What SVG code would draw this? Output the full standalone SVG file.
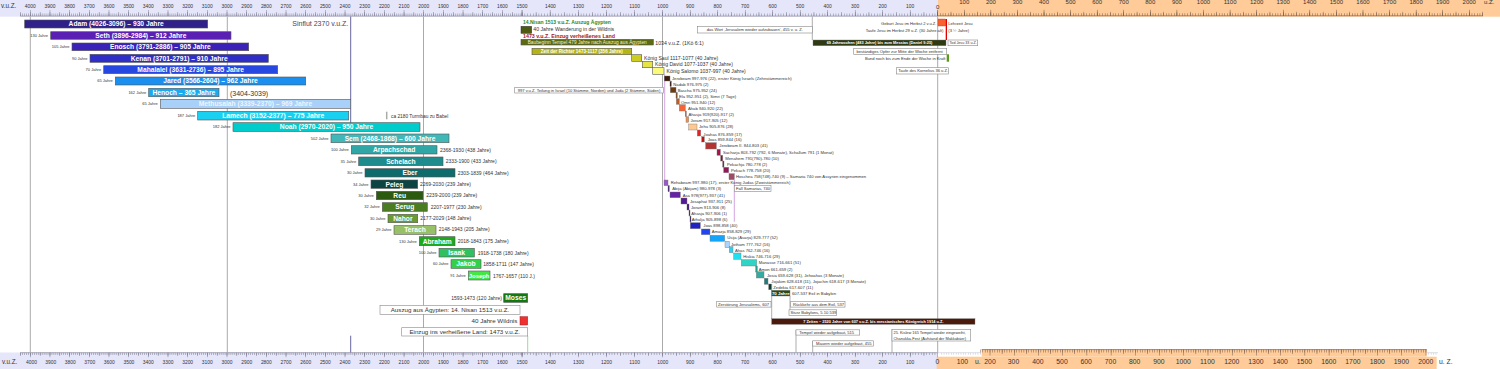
<svg xmlns="http://www.w3.org/2000/svg" width="1500" height="369" viewBox="0 0 1500 369">
<style>
svg{fill:#333}
text{font-family:"Liberation Sans",Arial,sans-serif}
.bar{stroke:#555;stroke-width:0.6}
.bt{font-weight:bold;font-size:6.7px;fill:#fff;text-anchor:middle}
.age{font-size:4px;text-anchor:end}
.life{font-size:5px}
.k{font-size:4.2px}
.kb{stroke:#777;stroke-width:0.4}
.box{fill:#fff;stroke:#888;stroke-width:0.6}
.bx{font-size:4.1px}
.grid{stroke:#aaa;stroke-width:1}
.ax{font-size:6px;text-anchor:middle}
.axa{font-size:6px;text-anchor:middle}
.axb{font-size:6.8px;text-anchor:middle}
.tk{fill:none}
</style>

<!-- axis backgrounds -->
<g id="axis-top">
<rect x="0" y="0" width="937.7" height="16.7" fill="#e6e6fa"/>
<rect x="937.7" y="0" width="562.3" height="16.7" fill="#ffcc99"/>
<g stroke="#77778a" class="tk">
<line x1="20.2" y1="16.1" x2="938" y2="16.1" stroke-width="0.6"/>
<line x1="20.25" y1="14.8" x2="522.2" y2="14.8" stroke-width="2.4" stroke-dasharray="0.45 1.517"/>
<line x1="20.25" y1="14" x2="522.2" y2="14" stroke-width="4" stroke-dasharray="0.45 9.385"/>
<line x1="30.08" y1="13" x2="522.4" y2="13" stroke-width="6" stroke-dasharray="0.45 19.22"/>
<line x1="521.83" y1="14.8" x2="662.5" y2="14.8" stroke-width="2.4" stroke-dasharray="0.45 2.36"/>
<line x1="521.83" y1="14" x2="662.5" y2="14" stroke-width="4" stroke-dasharray="0.45 13.6"/>
<line x1="521.83" y1="13" x2="662.5" y2="13" stroke-width="6" stroke-dasharray="0.45 27.65"/>
<line x1="662.48" y1="14.8" x2="937.5" y2="14.8" stroke-width="2.4" stroke-dasharray="0.45 2.3"/>
<line x1="662.48" y1="14" x2="937.5" y2="14" stroke-width="4" stroke-dasharray="0.45 13.3"/>
<line x1="662.48" y1="13" x2="938" y2="13" stroke-width="6" stroke-dasharray="0.45 27.05"/>
</g>
<g stroke="#6a5040" class="tk">
<line x1="937.5" y1="15.8" x2="1483" y2="15.8" stroke-width="0.6"/>
<line x1="937.48" y1="14.5" x2="1483" y2="14.5" stroke-width="2.4" stroke-dasharray="0.45 2.208"/>
<line x1="937.48" y1="13.7" x2="1483" y2="13.7" stroke-width="4" stroke-dasharray="0.45 12.84"/>
<line x1="937.48" y1="12.7" x2="1483" y2="12.7" stroke-width="6" stroke-dasharray="0.45 26.13"/>
</g>
<text x="1" y="8.3" font-size="6.3">v.u.Z.</text>
<g transform="scale(0.82 1)">
<text class="ax" x="36.95" y="8.3">4000</text><text class="ax" x="60.94" y="8.3">3900</text><text class="ax" x="84.93" y="8.3">3800</text><text class="ax" x="108.91" y="8.3">3700</text><text class="ax" x="132.9" y="8.3">3600</text><text class="ax" x="156.89" y="8.3">3500</text><text class="ax" x="180.88" y="8.3">3400</text><text class="ax" x="204.87" y="8.3">3300</text><text class="ax" x="228.85" y="8.3">3200</text><text class="ax" x="252.84" y="8.3">3100</text><text class="ax" x="276.83" y="8.3">3000</text><text class="ax" x="300.82" y="8.3">2900</text><text class="ax" x="324.8" y="8.3">2800</text><text class="ax" x="348.79" y="8.3">2700</text><text class="ax" x="372.78" y="8.3">2600</text><text class="ax" x="396.77" y="8.3">2500</text><text class="ax" x="420.76" y="8.3">2400</text><text class="ax" x="444.74" y="8.3">2300</text><text class="ax" x="468.73" y="8.3">2200</text><text class="ax" x="492.72" y="8.3">2100</text><text class="ax" x="516.71" y="8.3">2000</text><text class="ax" x="540.7" y="8.3">1900</text><text class="ax" x="564.68" y="8.3">1800</text><text class="ax" x="588.67" y="8.3">1700</text><text class="ax" x="612.66" y="8.3">1600</text><text class="ax" x="636.65" y="8.3">1500</text><text class="ax" x="671.22" y="8.3">1400</text><text class="ax" x="705.49" y="8.3">1300</text><text class="ax" x="739.63" y="8.3">1200</text><text class="ax" x="773.9" y="8.3">1100</text><text class="ax" x="808.17" y="8.3">1000</text><text class="ax" x="841.71" y="8.3">900</text><text class="ax" x="875.24" y="8.3">800</text><text class="ax" x="908.78" y="8.3">700</text><text class="ax" x="942.32" y="8.3">600</text><text class="ax" x="975.85" y="8.3">500</text><text class="ax" x="1009.39" y="8.3">400</text><text class="ax" x="1042.93" y="8.3">300</text><text class="ax" x="1076.46" y="8.3">200</text><text class="ax" x="1110" y="8.3">100</text>
</g>
<text class="axa" x="937.7" y="9" font-size="6.5">0</text>
<text class="axa" x="964.3" y="4">100</text><text class="axa" x="990.9" y="4">200</text><text class="axa" x="1017.4" y="4">300</text><text class="axa" x="1044" y="4">400</text><text class="axa" x="1070.6" y="4">500</text><text class="axa" x="1097.2" y="4">600</text><text class="axa" x="1123.8" y="4">700</text><text class="axa" x="1150.3" y="4">800</text><text class="axa" x="1176.9" y="4">900</text><text class="axa" x="1203.5" y="4">1000</text><text class="axa" x="1230.1" y="4">1100</text><text class="axa" x="1256.7" y="4">1200</text><text class="axa" x="1283.2" y="4">1300</text><text class="axa" x="1309.8" y="4">1400</text><text class="axa" x="1336.4" y="4">1500</text><text class="axa" x="1363" y="4">1600</text><text class="axa" x="1389.6" y="4">1700</text><text class="axa" x="1416.1" y="4">1800</text><text class="axa" x="1442.7" y="4">1900</text><text class="axa" x="1469.3" y="4">2000</text>
<text x="1484" y="4" font-size="6">u.Z.</text>
</g>

<g id="axis-bottom">
<rect x="0" y="352.5" width="937.7" height="16.5" fill="#e6e6fa"/>
<rect x="936.7" y="356.7" width="500" height="12.3" fill="#ffcc99"/>
<rect x="981.7" y="349.3" width="445" height="7.4" fill="#ffcc99"/>
<g stroke="#77778a" class="tk">
<line x1="20.2" y1="352.7" x2="938" y2="352.7" stroke-width="0.6"/>
<line x1="20.25" y1="353.8" x2="522.2" y2="353.8" stroke-width="2.2" stroke-dasharray="0.45 1.517"/>
<line x1="20.25" y1="354.3" x2="522.2" y2="354.3" stroke-width="3.2" stroke-dasharray="0.45 9.385"/>
<line x1="30.08" y1="355" x2="522.4" y2="355" stroke-width="4.6" stroke-dasharray="0.45 19.22"/>
<line x1="521.83" y1="353.8" x2="662.5" y2="353.8" stroke-width="2.2" stroke-dasharray="0.45 2.36"/>
<line x1="521.83" y1="354.3" x2="662.5" y2="354.3" stroke-width="3.2" stroke-dasharray="0.45 13.6"/>
<line x1="521.83" y1="355" x2="662.5" y2="355" stroke-width="4.6" stroke-dasharray="0.45 27.65"/>
<line x1="662.48" y1="353.8" x2="937.5" y2="353.8" stroke-width="2.2" stroke-dasharray="0.45 2.3"/>
<line x1="662.48" y1="354.3" x2="937.5" y2="354.3" stroke-width="3.2" stroke-dasharray="0.45 13.3"/>
<line x1="662.48" y1="355" x2="938" y2="355" stroke-width="4.6" stroke-dasharray="0.45 27.05"/>
</g>
<g stroke="#bbbbcc" class="tk">
<line x1="938" y1="352.7" x2="981" y2="352.7" stroke-width="0.5"/>
<line x1="941.38" y1="353.7" x2="981" y2="353.7" stroke-width="2" stroke-dasharray="0.45 1.972"/>
<line x1="1427" y1="352.7" x2="1438" y2="352.7" stroke-width="0.5"/>
<line x1="1428.5" y1="353.7" x2="1438" y2="353.7" stroke-width="2" stroke-dasharray="0.45 1.972"/>
</g>
<g stroke="#6a5040" class="tk">
<line x1="981.7" y1="349.6" x2="1426.7" y2="349.6" stroke-width="0.6"/>
<line x1="980.09" y1="351" x2="1426.9" y2="351" stroke-width="3" stroke-dasharray="0.45 1.972"/>
<line x1="1001.89" y1="351.8" x2="1426.9" y2="351.8" stroke-width="4.5" stroke-dasharray="0.45 23.77"/>
<line x1="989.78" y1="352.6" x2="1426.9" y2="352.6" stroke-width="6" stroke-dasharray="0.45 23.77"/>
</g>
<text x="2" y="364.3" font-size="6.3">v.u.Z.</text>
<g transform="scale(0.82 1)">
<text class="ax" x="38.5" y="364.3">4000</text><text class="ax" x="62" y="364.3">3900</text><text class="ax" x="85.7" y="364.3">3800</text><text class="ax" x="109.5" y="364.3">3700</text><text class="ax" x="133.3" y="364.3">3600</text><text class="ax" x="157.2" y="364.3">3500</text><text class="ax" x="180.88" y="364.3">3400</text><text class="ax" x="204.87" y="364.3">3300</text><text class="ax" x="228.85" y="364.3">3200</text><text class="ax" x="252.84" y="364.3">3100</text><text class="ax" x="276.83" y="364.3">3000</text><text class="ax" x="300.82" y="364.3">2900</text><text class="ax" x="324.8" y="364.3">2800</text><text class="ax" x="348.79" y="364.3">2700</text><text class="ax" x="372.78" y="364.3">2600</text><text class="ax" x="396.77" y="364.3">2500</text><text class="ax" x="420.76" y="364.3">2400</text><text class="ax" x="444.74" y="364.3">2300</text><text class="ax" x="468.73" y="364.3">2200</text><text class="ax" x="492.72" y="364.3">2100</text><text class="ax" x="516.71" y="364.3">2000</text><text class="ax" x="540.7" y="364.3">1900</text><text class="ax" x="564.68" y="364.3">1800</text><text class="ax" x="588.67" y="364.3">1700</text><text class="ax" x="612.66" y="364.3">1600</text><text class="ax" x="636.65" y="364.3">1500</text><text class="ax" x="671.22" y="364.3">1400</text><text class="ax" x="705.49" y="364.3">1300</text><text class="ax" x="739.63" y="364.3">1200</text><text class="ax" x="773.9" y="364.3">1100</text><text class="ax" x="808.17" y="364.3">1000</text><text class="ax" x="841.71" y="364.3">900</text><text class="ax" x="875.24" y="364.3">800</text><text class="ax" x="908.78" y="364.3">700</text><text class="ax" x="942.32" y="364.3">600</text><text class="ax" x="975.85" y="364.3">500</text><text class="ax" x="1009.39" y="364.3">400</text><text class="ax" x="1042.93" y="364.3">300</text><text class="ax" x="1076.46" y="364.3">200</text><text class="ax" x="1110" y="364.3">100</text>
</g>
<text class="axb" x="937.3" y="364.3">0</text><text class="axb" x="962.3" y="364.3">100</text>
<text x="975" y="364.3" font-size="6.8">u.</text>
<text class="axb" x="990" y="364.3">200</text><text class="axb" x="1013.5" y="364.3">300</text><text class="axb" x="1037.8" y="364.3">400</text><text class="axb" x="1062" y="364.3">500</text><text class="axb" x="1086.2" y="364.3">600</text><text class="axb" x="1110.5" y="364.3">700</text><text class="axb" x="1134.7" y="364.3">800</text><text class="axb" x="1158.9" y="364.3">900</text><text class="axb" x="1183.2" y="364.3">1000</text><text class="axb" x="1207.4" y="364.3">1100</text><text class="axb" x="1231.7" y="364.3">1200</text><text class="axb" x="1255.9" y="364.3">1300</text><text class="axb" x="1280.2" y="364.3">1400</text><text class="axb" x="1304.4" y="364.3">1500</text><text class="axb" x="1328.7" y="364.3">1600</text><text class="axb" x="1352.9" y="364.3">1700</text><text class="axb" x="1377.2" y="364.3">1800</text><text class="axb" x="1401.4" y="364.3">1900</text><text class="axb" x="1425.8" y="364.3">2000</text>
<text x="1439" y="364.3" font-size="6.8">u. Z.</text>
</g>

<!-- connectors -->
<g id="connectors" fill="none">
<line class="grid" x1="30.3" y1="16.5" x2="30.3" y2="352.5"/>
<line class="grid" x1="227.3" y1="16.5" x2="227.3" y2="352.5"/>
<line class="grid" x1="423.5" y1="16.5" x2="423.5" y2="352.5"/>
<line class="grid" x1="662.5" y1="16.5" x2="662.5" y2="352.5"/>
<line class="grid" x1="937.7" y1="16.5" x2="937.7" y2="352.5"/>
<line x1="350.7" y1="16.5" x2="350.7" y2="123" stroke="#66669a" stroke-width="1"/>
<line x1="350.7" y1="335.7" x2="350.7" y2="352.5" stroke="#66669a" stroke-width="1"/>
<line x1="527.7" y1="336" x2="527.7" y2="352.5" stroke="#8c8" stroke-width="0.8"/>
<line x1="664.7" y1="74.3" x2="664.7" y2="180" stroke="#d4a6e0" stroke-width="1"/>
<line x1="734.3" y1="179.7" x2="734.3" y2="221.7" stroke="#d4a6e0" stroke-width="1"/>
<line x1="812.3" y1="16.5" x2="812.3" y2="40" stroke="#999" stroke-width="0.8"/>
<line x1="771.7" y1="284" x2="771.7" y2="318.7" stroke="#999" stroke-width="0.8"/>
<line x1="790" y1="296" x2="790" y2="310" stroke="#999" stroke-width="0.8"/>
<line x1="796" y1="330" x2="796" y2="352.5" stroke="#999" stroke-width="0.8"/>
<line x1="812.7" y1="341" x2="812.7" y2="352.5" stroke="#999" stroke-width="0.8"/>
<line x1="892" y1="329.3" x2="892" y2="352.5" stroke="#999" stroke-width="0.8"/>
</g>

<!-- Patriarchs -->
<g id="adam"><rect class="bar" x="24.7" y="20" width="183" height="8" fill="#30208a"/><text class="bt" x="116.2" y="26.4">Adam (4026-3096) – 930 Jahre</text></g>
<g id="sinflut"><text x="292.3" y="26.3" font-size="7" fill="#444466">Sinflut 2370 v.u.Z.</text></g>
<g id="seth"><text class="age" x="48" y="36.9">130 Jahre</text><rect class="bar" x="50.7" y="31.7" width="180.3" height="7.6" fill="#5a20b4"/><text class="bt" x="140.85" y="37.9">Seth (3896-2984) – 912 Jahre</text></g>
<g id="enosch"><text class="age" x="69.5" y="48.2">105 Jahre</text><rect class="bar" x="72" y="43" width="176.7" height="7.7" fill="#3a22b8"/><text class="bt" x="160.35" y="49.25">Enosch (3791-2886) – 905 Jahre</text></g>
<g id="kenan"><text class="age" x="87.5" y="59.7">90 Jahre</text><rect class="bar" x="90" y="54.3" width="178.3" height="8" fill="#2f2fc8"/><text class="bt" x="179.15" y="60.7">Kenan (3701-2791) – 910 Jahre</text></g>
<g id="mahalalel"><text class="age" x="101.2" y="71.1">70 Jahre</text><rect class="bar" x="103.7" y="65.7" width="174" height="8" fill="#2648e0"/><text class="bt" x="190.7" y="72.1">Mahalalel (3631-2736) – 895 Jahre</text></g>
<g id="jared"><text class="age" x="112.8" y="82.4">65 Jahre</text><rect class="bar" x="115.3" y="77" width="190.4" height="8" fill="#1a8ff0"/><text class="bt" x="210.5" y="83.4">Jared (3566-2604) – 962 Jahre</text></g>
<g id="henoch"><text class="age" x="146.2" y="93.9">162 Jahre</text><rect class="bar" x="148.7" y="88.3" width="70.3" height="8.4" fill="#1aaaf0"/><text class="bt" x="183.85" y="94.9">Henoch – 365 Jahre</text><text x="230" y="95.5" font-size="7">(3404-3039)</text></g>
<g id="methusalah"><text class="age" x="157.8" y="105.2">65 Jahre</text><rect class="bar" x="160.3" y="99.3" width="190.4" height="9" fill="#a8d0f8" stroke="#6a8ac0"/><text class="bt" x="255.5" y="106.2" style="fill:#eef6ff">Methusalah (3339-2370) – 969 Jahre</text></g>
<g id="lamech"><text class="age" x="195.2" y="117">187 Jahre</text><rect class="bar" x="197.7" y="111.3" width="151" height="8.7" fill="#1ad0f0"/><text class="bt" x="273.2" y="118.05">Lamech (3152-2377) – 775 Jahre</text></g>
<g id="turmbau"><line x1="386.7" y1="111.7" x2="386.7" y2="119.3" stroke="#aaa" stroke-width="1.5"/><text x="391" y="118" font-size="4.8">ca 2180 Turmbau zu Babel</text></g>
<g id="noah"><text class="age" x="230.5" y="128.4">182 Jahre</text><rect class="bar" x="233" y="122.7" width="187" height="8.8" fill="#00cccc"/><text class="bt" x="326.5" y="129.4">Noah (2970-2020) – 950 Jahre</text></g>
<g id="sem"><text class="age" x="328.5" y="139.7">502 Jahre</text><rect class="bar" x="331" y="134" width="118" height="8.7" fill="#40b8b8"/><text class="bt" x="390" y="140.75">Sem (2468-1868) – 600 Jahre</text></g>
<g id="arpachschad"><text class="age" x="348.8" y="151.2">100 Jahre</text><rect class="bar" x="351.3" y="145.7" width="85.7" height="8.3" fill="#30a6a6"/><text class="bt" x="394.15" y="152.25">Arpachschad</text><text class="life" x="440" y="152">2368-1930 (438 Jahre)</text></g>
<g id="schelach"><text class="age" x="356.2" y="162.7">35 Jahre</text><rect class="bar" x="358.7" y="157" width="84.3" height="8.7" fill="#1e8c8c"/><text class="bt" x="400.85" y="163.75">Schelach</text><text class="life" x="445.7" y="163.4">2333-1900 (433 Jahre)</text></g>
<g id="eber"><text class="age" x="362.5" y="174.2">30 Jahre</text><rect class="bar" x="365" y="168.7" width="90" height="8.3" fill="#0e6c6c"/><text class="bt" x="410" y="175.25">Eber</text><text class="life" x="457.7" y="174.8">2303-1839 (464 Jahre)</text></g>
<g id="peleg"><text class="age" x="368.5" y="185.5">34 Jahre</text><rect class="bar" x="371" y="180" width="46.7" height="8.3" fill="#0c4444"/><text class="bt" x="394.35" y="186.55">Peleg</text><text class="life" x="420" y="186">2269-2030 (239 Jahre)</text></g>
<g id="reu"><text class="age" x="373.8" y="196.9">30 Jahre</text><rect class="bar" x="376.3" y="191.3" width="46.7" height="8.4" fill="#2c5a10"/><text class="bt" x="399.65" y="197.9">Reu</text><text class="life" x="426.3" y="197.3">2239-2000 (239 Jahre)</text></g>
<g id="serug"><text class="age" x="379.8" y="208.4">32 Jahre</text><rect class="bar" x="382.3" y="202.7" width="45" height="8.6" fill="#4a7c22"/><text class="bt" x="404.8" y="209.4">Serug</text><text class="life" x="430.7" y="208.7">2207-1977 (230 Jahre)</text></g>
<g id="nahor"><text class="age" x="385.5" y="219.9">30 Jahre</text><rect class="bar" x="388" y="214.3" width="29.7" height="8.4" fill="#6a9a32"/><text class="bt" x="402.85" y="220.9">Nahor</text><text class="life" x="420.3" y="220">2177-2029 (148 Jahre)</text></g>
<g id="terach"><text class="age" x="391.5" y="231.4">29 Jahre</text><rect class="bar" x="394" y="225.7" width="42" height="8.6" fill="#98c068"/><text class="bt" x="415" y="232.4">Terach</text><text class="life" x="438.7" y="231.3">2148-1943 (205 Jahre)</text></g>
<g id="abraham"><text class="age" x="416.8" y="242.6">130 Jahre</text><rect class="bar" x="419.3" y="236.7" width="35.7" height="9" fill="#1ea81e"/><text class="bt" x="437.15" y="243.6">Abraham</text><text class="life" x="457.7" y="242.7">2018-1843 (175 Jahre)</text></g>
<g id="isaak"><text class="age" x="436.5" y="254">100 Jahre</text><rect class="bar" x="439" y="248.3" width="35.3" height="8.7" fill="#30c060"/><text class="bt" x="456.65" y="255.05">Isaak</text><text class="life" x="477.7" y="254.7">1918-1738 (180 Jahre)</text></g>
<g id="jakob"><text class="age" x="448.5" y="265.4">60 Jahre</text><rect class="bar" x="451" y="259.7" width="30" height="8.6" fill="#34d04a"/><text class="bt" x="466" y="266.4">Jakob</text><text class="life" x="483.3" y="266">1858-1711 (147 Jahre)</text></g>
<g id="joseph"><text class="age" x="465.8" y="276.9">91 Jahre</text><rect class="bar" x="468.3" y="271" width="21.7" height="9" fill="#44e844"/><text class="bt" x="479.15" y="277.7" style="font-size:5.9px">Joseph</text><text class="life" x="493" y="277.5">1767-1657 (110 J.)</text></g>
<g id="moses"><text class="life" x="502" y="300" text-anchor="end">1593-1473 (120 Jahre)</text><rect class="bar" x="503.7" y="293.7" width="24" height="8.6" fill="#127812" stroke="#333"/><text class="bt" x="515.7" y="300.4">Moses</text></g>
<g id="auszug-box"><rect class="box" x="380" y="305.3" width="140" height="9"/><text x="450" y="312.2" font-size="6.2" text-anchor="middle">Auszug aus Ägypten: 14. Nisan 1513 v.u.Z.</text></g>
<g id="wildnis"><text x="517.3" y="323.3" font-size="6.2" text-anchor="end">40 Jahre Wildnis</text><rect x="520" y="316.7" width="7.7" height="8.3" fill="#f03030" stroke="#a02020" stroke-width="0.5"/></g>
<g id="einzug-box"><rect class="box" x="401.7" y="327.7" width="126" height="8.3"/><text x="464.7" y="334" font-size="6.2" text-anchor="middle">Einzug ins verheißene Land: 1473 v.u.Z.</text></g>

<!-- Exodus / judges / kings (united) -->
<g id="auszug-top"><text x="523" y="24.3" font-size="5" font-weight="bold" fill="#2a8a2a">14.Nisan 1513 v.u.Z. Auszug Ägypten</text></g>
<g id="wanderung"><rect x="521" y="26.3" width="10.7" height="7" fill="#4e5a12" stroke="#333" stroke-width="0.5"/><text x="533.3" y="31.3" font-size="5.2">40 Jahre Wanderung in der Wildnis</text></g>
<g id="einzug-top"><text x="523" y="37.8" font-size="5.3" font-weight="bold" fill="#a02020">1473 v.u.Z. Einzug verheißenes Land</text></g>
<g id="baubeginn"><rect class="bar" x="521" y="39.3" width="132.3" height="5.7" fill="#5c6a12"/><text x="587.2" y="43.8" font-size="4.8" fill="#f0f0d0" text-anchor="middle">Baubeginn Tempel 479 Jahre nach Auszug aus Ägypten</text><text x="655.3" y="44.5" font-size="5.2">1034 v.u.Z. (1Kö 6:1)</text></g>
<g id="richter"><rect class="bar" x="532" y="48.3" width="99.7" height="6.4" fill="#b4b414"/><text x="581.8" y="53.2" font-size="4.6" font-weight="bold" fill="#fff" text-anchor="middle">Zeit der Richter 1473-1117 (356 Jahre)</text></g>
<g id="saul"><rect class="bar" x="631.7" y="54.7" width="10" height="6.6" fill="#cccc22"/><text x="644" y="60" font-size="5.1">König Saul 1117-1077 (40 Jahre)</text></g>
<g id="david"><rect class="bar" x="642.3" y="61.3" width="10.4" height="6.4" fill="#e4e444"/><text x="655" y="66" font-size="5.1">König David 1077-1037 (40 Jahre)</text></g>
<g id="salomo"><rect class="bar" x="652.7" y="67.7" width="11.3" height="6.6" fill="#fafa78"/><text x="666.5" y="72.9" font-size="5.1">König Salomo 1037-997 (40 Jahre)</text></g>
<g id="teilung"><rect class="box" x="514.7" y="87.3" width="148.6" height="5.7"/><text class="bx" x="589" y="91.6" text-anchor="middle">997 v.u.Z. Teilung in Israel (10 Stämme, Norden) und Juda (2 Stämme, Süden)</text></g>

<!-- Israel -->
<g id="jerobeam"><rect class="kb" x="664.3" y="76" width="5.7" height="5" fill="#3c1c0c"/><text class="k" x="672" y="80">Jerobeam 997-976 (22), erster König Israels (Zehnstämmereich)</text></g>
<g id="nadab"><rect class="kb" x="670" y="81" width="1.3" height="5.5" fill="#2a140a"/><text class="k" x="673.3" y="86">Nadab 976-975 (2)</text></g>
<g id="bascha"><rect class="kb" x="670.3" y="87.3" width="5.7" height="5.4" fill="#6e3a12"/><text class="k" x="677.7" y="92">Bascha 975-952 (24)</text></g>
<g id="ela"><rect class="kb" x="676" y="92.7" width="1.3" height="5.5" fill="#8a4a20"/><text class="k" x="679" y="97.7">Ela 952-951 (2), Simri (7 Tage)</text></g>
<g id="omri"><rect class="kb" x="676.3" y="98.7" width="3" height="5.6" fill="#c45a22"/><text class="k" x="681" y="103.5">Omri 951-940 (12)</text></g>
<g id="ahab"><rect class="kb" x="679.3" y="104.7" width="6" height="6.3" fill="#f46434"/><text class="k" x="688" y="109.5">Ahab 940-920 (22)</text></g>
<g id="ahasja-i"><rect class="kb" x="685.3" y="111" width="1" height="5.5" fill="#d03010"/><text class="k" x="688.5" y="115.7">Ahasja 919(920)-917 (2)</text></g>
<g id="joram-i"><rect class="kb" x="686" y="116.7" width="2.7" height="5.6" fill="#f08c48"/><text class="k" x="690.5" y="121.5">Joram 917-905 (12)</text></g>
<g id="jehu"><rect class="kb" x="688.7" y="124" width="8.3" height="6" fill="#ffc890"/><text class="k" x="699" y="128.3">Jehu 905-876 (28)</text></g>
<g id="joahas"><rect class="kb" x="697.3" y="130" width="3.4" height="6" fill="#e82020"/><text class="k" x="703.3" y="135.5">Joahas 876-859 (17)</text></g>
<g id="joas-i"><rect class="kb" x="701.7" y="136.7" width="2.6" height="5.3" fill="#c41010"/><text class="k" x="707.7" y="141">Joas 859-844 (16)</text></g>
<g id="jerobeam2"><rect class="kb" x="705.7" y="142.7" width="10.6" height="6.3" fill="#b43434"/><text class="k" x="719.3" y="147.3">Jerobeam II. 844-803 (41)</text></g>
<g id="sacharja"><rect class="kb" x="717" y="149.3" width="3.3" height="6" fill="#a8124a"/><text class="k" x="723" y="153.7">Sacharja 803-792 (792, 6 Monate), Schallum 791 (1 Monat)</text></g>
<g id="menahem"><rect class="kb" x="720.7" y="155.3" width="2" height="5.7" fill="#801030"/><text class="k" x="725.3" y="160">Menahem 791(790)-780 (10)</text></g>
<g id="pekachja"><rect class="kb" x="722.7" y="161" width="1.3" height="6" fill="#702040"/><text class="k" x="727" y="166">Pekachja 780-778 (2)</text></g>
<g id="pekach"><rect class="kb" x="723.7" y="167.3" width="5" height="5.4" fill="#901858"/><text class="k" x="731" y="172.3">Pekach 778-758 (20)</text></g>
<g id="hoschea"><rect class="kb" x="729" y="173.7" width="5.3" height="6" fill="#a04a64"/><text class="k" x="736" y="178.3">Hoschea 758(748)-740 (9) – Samaria 740 von Assyrien eingenommen</text></g>
<g id="fall-samarias"><rect class="box" x="734.3" y="185.5" width="36.7" height="6"/><text class="bx" x="736" y="190.3">Fall Samarias, 740</text></g>

<!-- Juda -->
<g id="rehabeam"><rect class="kb" x="664" y="180" width="4" height="5.7" fill="#9a58c8"/><text class="k" x="670.7" y="184.3">Rehabeam 997-980 (17), erster König Judas (Zweistämmereich)</text></g>
<g id="abija"><rect class="kb" x="668" y="185.7" width="1.3" height="6" fill="#402070"/><text class="k" x="672.3" y="190.3">Abija (Abijam) 980-978 (3)</text></g>
<g id="asa"><rect class="kb" x="670" y="192" width="10.3" height="5.7" fill="#6424a4"/><text class="k" x="682.7" y="196.7">Asa 978(977)-937 (41)</text></g>
<g id="josaphat"><rect class="kb" x="681" y="198" width="6" height="6" fill="#521a94"/><text class="k" x="690" y="202.7">Josaphat 937-911 (25)</text></g>
<g id="joram-j"><rect class="kb" x="687" y="204" width="2" height="6" fill="#401080"/><text class="k" x="691" y="208.7">Joram 913-906 (8)</text></g>
<g id="ahasja-j"><rect class="kb" x="689" y="210" width="1" height="6" fill="#301070"/><text class="k" x="691.3" y="214.7">Ahasja 907-906 (1)</text></g>
<g id="athalja"><rect class="kb" x="690" y="216" width="1" height="6" fill="#200860"/><text class="k" x="691.7" y="220.7">Athalja 905-898 (6)</text></g>
<g id="joas-j"><rect class="kb" x="690.3" y="222.7" width="10" height="6" fill="#2222c4"/><text class="k" x="703.3" y="227">Joas 898-858 (40)</text></g>
<g id="amazja"><rect class="kb" x="701.3" y="229" width="8.7" height="5.7" fill="#1e44f4"/><text class="k" x="711.7" y="233.3">Amazja 858-829 (29)</text></g>
<g id="usija"><rect class="kb" x="710" y="235.3" width="14.7" height="6" fill="#14a4fa"/><text class="k" x="727.3" y="239.3">Usija (Asarja) 829-777 (52)</text></g>
<g id="jotham"><rect class="kb" x="725" y="241.3" width="4.3" height="6.4" fill="#a8d4ff"/><text class="k" x="731" y="245.5">Jotham 777-762 (16)</text></g>
<g id="ahas"><rect class="kb" x="729.3" y="246.7" width="3.7" height="6" fill="#30d0f4"/><text class="k" x="735" y="251.7">Ahas 762-746 (16)</text></g>
<g id="hiskia"><rect class="kb" x="733.7" y="253" width="7.3" height="6.3" fill="#20e0f0"/><text class="k" x="743.3" y="258">Hiskia 746-716 (29)</text></g>
<g id="manasse"><rect class="kb" x="741.3" y="259.7" width="15.4" height="6.3" fill="#30d4c4"/><text class="k" x="758.7" y="264.3">Manasse 716-661 (51)</text></g>
<g id="amon"><rect class="kb" x="755.7" y="266" width="1.6" height="6" fill="#20a090"/><text class="k" x="758.7" y="270.7">Amon 661-659 (2)</text></g>
<g id="josia"><rect class="kb" x="756.3" y="271.7" width="7.7" height="6.3" fill="#34aaa2"/><text class="k" x="767" y="276.7">Josia 659-628 (31), Jehoahas (3 Monate)</text></g>
<g id="jojakim"><rect class="kb" x="764.3" y="278.3" width="3.7" height="6" fill="#1e7c7c"/><text class="k" x="771.3" y="283">Jojakim 628-618 (11), Jojachin 618-617 (3 Monate)</text></g>
<g id="zedekia"><rect class="kb" x="768.7" y="284" width="2.6" height="5.7" fill="#0e3a30"/><text class="k" x="773.3" y="289">Zedekia 617-607 (11)</text></g>
<g id="exil"><rect class="kb" x="771.7" y="290.3" width="18.3" height="5.7" fill="#2c4a12" stroke="#888"/><text x="780.8" y="294.8" font-size="4.4" font-weight="bold" fill="#fff" text-anchor="middle">70 Jahre</text><text class="k" x="792" y="294.5">607-537 Exil in Babylon</text></g>
<g id="zerstoerung"><rect class="box" x="716.7" y="301.3" width="54.3" height="5.8"/><text class="bx" x="718" y="305.8">Zerstörung Jerusalems, 607</text></g>
<g id="rueckkehr"><rect class="box" x="790.7" y="301.3" width="54.3" height="5.8"/><text class="bx" x="793" y="305.8">Rückkehr aus dem Exil, 537</text></g>
<g id="sturz"><rect class="box" x="789" y="309.8" width="47.7" height="5.8"/><text class="bx" x="790.5" y="314.3">Sturz Babylons, 5.10.539</text></g>
<g id="sieben-zeiten"><rect x="771.7" y="318.7" width="203.3" height="5.6" fill="#4a1a0c" stroke="#777" stroke-width="0.4"/><text x="873.4" y="323" font-size="3.9" font-weight="bold" fill="#fff" text-anchor="middle">7 Zeiten – 2520 Jahre von 607 v.u.Z. bis messianisches Königreich 1914 u.Z.</text></g>
<g id="tempel-515"><rect class="box" x="796" y="329.8" width="63.7" height="5.3"/><text class="bx" x="799.3" y="334">Tempel wieder aufgebaut, 515</text></g>
<g id="mauern-455"><rect class="box" x="812.7" y="340.8" width="60.6" height="5.3"/><text class="bx" x="816" y="345">Mauern wieder aufgebaut, 455</text></g>
<g id="kislew"><rect class="box" x="892" y="329.3" width="78.7" height="11.7"/><text x="893.5" y="334.3" font-size="3.9">25. Kislew 165 Tempel wieder eingeweiht,</text><text x="893.5" y="339.6" font-size="3.9">Chanukka-Fest (Aufstand der Makkabäer)</text></g>

<!-- Messiah -->
<g id="wort"><rect class="box" x="697.3" y="26.3" width="115" height="6.7"/><text class="bx" x="754.8" y="31.2" text-anchor="middle">das Wort ‚Jerusalem wieder aufzubauen', 455 v. u. Z.</text></g>
<g id="jahrwochen"><rect x="813" y="40" width="133" height="5.7" fill="#2d3a12" stroke="#777" stroke-width="0.4"/><text x="879.5" y="44.3" font-size="3.9" font-weight="bold" fill="#fff" text-anchor="middle">69 Jahrwochen (483 Jahre) bis zum Messias (Daniel 9:25)</text></g>
<g id="geburt"><text class="bx" x="936.5" y="25" text-anchor="end">Geburt Jesu im Herbst 2 v.u.Z.</text><rect x="938" y="19" width="7.7" height="7" fill="#f86030" stroke="#c04020" stroke-width="0.4"/></g>
<g id="taufe"><text class="bx" x="943.3" y="32" text-anchor="end">Taufe Jesu im Herbst 29 u.Z. (30 Jahre alt)</text></g>
<g id="lehrzeit"><rect x="945.7" y="19" width="1.3" height="21" fill="#e00000"/><text class="bx" x="948.3" y="25">Lehrzeit Jesu</text><text class="bx" x="948.3" y="32">(3 ½ Jahre)</text></g>
<g id="tod"><rect class="box" x="948" y="40" width="29.7" height="5.7"/><text x="949.5" y="44.3" font-size="3.7">Tod Jesu 33 u.Z.</text></g>
<g id="opfer"><rect class="box" x="853.7" y="48.3" width="93" height="6"/><text class="bx" x="856.5" y="52.8">beständiges Opfer zur Mitte der Woche entfernt</text></g>
<g id="bund"><text class="bx" x="945.5" y="59.8" text-anchor="end">Bund noch bis zum Ende der Woche in Kraft</text><rect x="946.7" y="54.3" width="2.3" height="7.4" fill="#5a9a1a"/></g>
<g id="kornelius"><rect class="box" x="896.3" y="67.7" width="52" height="6.3"/><text class="bx" x="898.3" y="72.4">Taufe des Kornelius 36 u.Z.</text></g>
</svg>
